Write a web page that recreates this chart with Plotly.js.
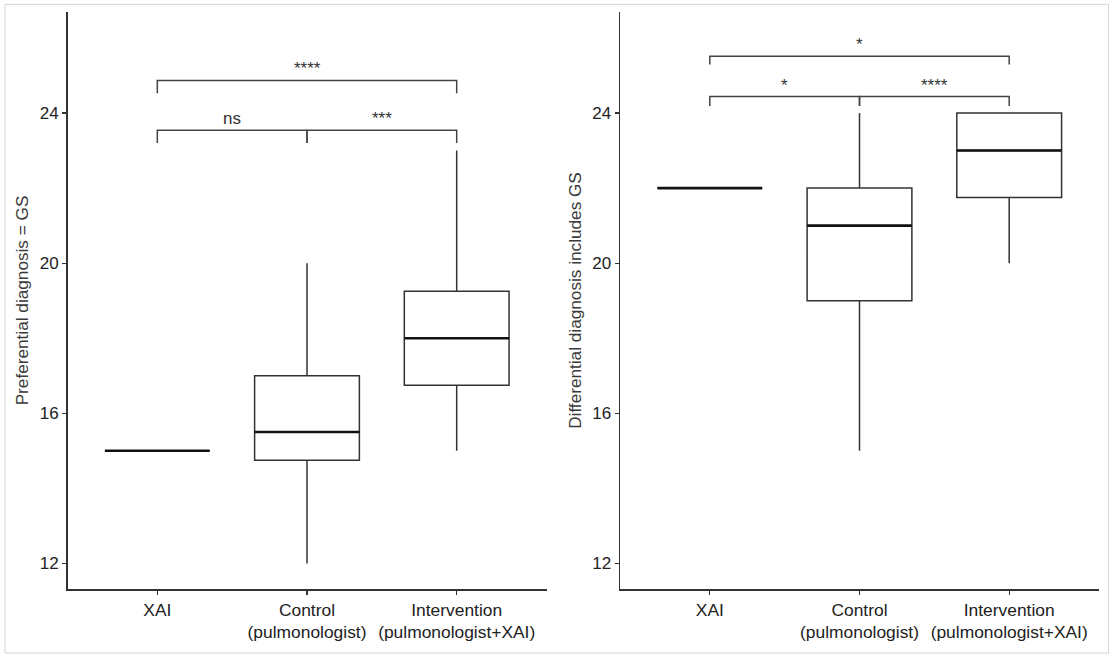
<!DOCTYPE html>
<html>
<head>
<meta charset="utf-8">
<script src="https://cdn.plot.ly/plotly-3.0.1.min.js"></script>
<style>
  html, body { margin: 0; padding: 0; background: #ffffff; }
  #chart { width: 1115px; height: 659px; }
</style>
</head>
<body>
<div id="chart"></div>
<script>
// ---------- data ----------
const categories = ['XAI', 'Control<br>(pulmonologist)', 'Intervention<br>(pulmonologist+XAI)'];
const catPos = [0, 1, 2];

// Left panel: Preferential diagnosis = GS
const leftQ1      = [15, 14.75, 16.75];
const leftMedian  = [15, 15.5, 18];
const leftQ3      = [15, 17, 19.25];
const leftLower   = [15, 12, 15];
const leftUpper   = [15, 20, 23];

// Right panel: Differential diagnosis includes GS
const rightQ1     = [22, 19, 21.75];
const rightMedian = [22, 21, 23];
const rightQ3     = [22, 22, 24];
const rightLower  = [22, 15, 20];
const rightUpper  = [22, 24, 24];

// significance brackets: [group a, group b], bracket height, tip end, label
const leftPairs   = [[0, 1], [1, 2], [0, 2]];
const leftBrY     = [23.54, 23.54, 24.87];
const leftTipY    = [23.20, 23.20, 24.53];
const leftLabels  = ['ns', '***', '****'];

const rightPairs  = [[0, 1], [1, 2], [0, 2]];
const rightBrY    = [24.44, 24.44, 25.51];
const rightTipY   = [24.19, 24.19, 25.29];
const rightLabels = ['*', '****', '*'];

const yTicks = [12, 16, 20, 24];
const leftTitle = 'Preferential diagnosis = GS';
const rightTitle = 'Differential diagnosis includes GS';

// ---------- styling ----------
const FONT = 'Liberation Sans, Arial, sans-serif';
const LINE = '#333333';
const BOXW = 0.7;

function boxTrace(q1, med, q3, lo, hi, xa, ya) {
  return {
    type: 'box', x: catPos, q1: q1, median: med, q3: q3,
    lowerfence: lo, upperfence: hi,
    width: BOXW, whiskerwidth: 0, boxpoints: false,
    fillcolor: 'rgba(255,255,255,0)',
    line: { color: LINE, width: 1.5 },
    xaxis: xa, yaxis: ya, hoverinfo: 'skip', showlegend: false
  };
}
function medianTrace(med, xa, ya) {
  const xs = [], ys = [];
  catPos.forEach((c, i) => { xs.push(c - BOXW / 2, c + BOXW / 2, null); ys.push(med[i], med[i], null); });
  return { type: 'scatter', mode: 'lines', x: xs, y: ys, line: { color: '#111111', width: 2.6 },
           xaxis: xa, yaxis: ya, hoverinfo: 'skip', showlegend: false };
}
function bracketTrace(pairs, by, ty, xa, ya) {
  const xs = [], ys = [];
  pairs.forEach((p, i) => {
    xs.push(p[0], p[0], p[1], p[1], null);
    ys.push(ty[i], by[i], by[i], ty[i], null);
  });
  return { type: 'scatter', mode: 'lines', x: xs, y: ys, line: { color: '#444444', width: 1.5 },
           xaxis: xa, yaxis: ya, hoverinfo: 'skip', showlegend: false };
}
function bracketLabels(pairs, by, labels, xa, ya) {
  return pairs.map((p, i) => ({
    xref: xa, yref: ya, x: (p[0] + p[1]) / 2, y: by[i], text: labels[i],
    showarrow: false, yanchor: 'bottom', xanchor: 'center',
    font: { family: FONT, size: 17, color: '#333333' }
  }));
}

const data = [
  boxTrace(leftQ1, leftMedian, leftQ3, leftLower, leftUpper, 'x', 'y'),
  medianTrace(leftMedian, 'x', 'y'),
  bracketTrace(leftPairs, leftBrY, leftTipY, 'x', 'y'),
  boxTrace(rightQ1, rightMedian, rightQ3, rightLower, rightUpper, 'x2', 'y2'),
  medianTrace(rightMedian, 'x2', 'y2'),
  bracketTrace(rightPairs, rightBrY, rightTipY, 'x2', 'y2')
];

function xAxis(domain, anchor) {
  return {
    domain: domain, anchor: anchor, range: [-0.6, 2.6],
    tickvals: catPos, ticktext: categories,
    showline: true, linecolor: LINE, linewidth: 1.5, mirror: false,
    ticks: 'outside', ticklen: 4, tickwidth: 1.2, tickcolor: LINE,
    showgrid: false, zeroline: false, fixedrange: true,
    tickfont: { family: FONT, size: 17.4, color: '#222222' }
  };
}
function yAxis(domain, anchor, title) {
  return {
    domain: domain, anchor: anchor, range: [11.31, 26.70],
    tickvals: yTicks, ticktext: yTicks.map(String),
    showline: true, linecolor: LINE, linewidth: 1.5,
    ticks: 'outside', ticklen: 4, tickwidth: 1.2, tickcolor: LINE,
    showgrid: false, zeroline: false, fixedrange: true,
    tickfont: { family: FONT, size: 17, color: '#222222' },
    title: { text: title, standoff: 6, font: { family: FONT, size: 17.2, color: '#3a3a3a' } }
  };
}

const yDom = [1 - 589.3 / 659, 1 - 11.7 / 659];
const layout = {
  width: 1115, height: 659,
  margin: { l: 0, r: 0, t: 0, b: 0 },
  paper_bgcolor: '#ffffff', plot_bgcolor: 'rgba(0,0,0,0)',
  showlegend: false,
  xaxis: xAxis([67.5 / 1115, 546.5 / 1115], 'y'),
  yaxis: yAxis(yDom, 'x', leftTitle),
  xaxis2: xAxis([620 / 1115, 1099 / 1115], 'y2'),
  yaxis2: yAxis(yDom, 'x2', rightTitle),
  annotations: [].concat(
    bracketLabels(leftPairs, leftBrY, leftLabels, 'x', 'y'),
    bracketLabels(rightPairs, rightBrY, rightLabels, 'x2', 'y2')
  ),
  shapes: [{
    type: 'rect', xref: 'paper', yref: 'paper',
    x0: 5 / 1115, x1: 1108.5 / 1115, y0: 1 - 653 / 659, y1: 1 - 4.3 / 659,
    line: { color: '#d4d4d4', width: 1 }, fillcolor: 'rgba(0,0,0,0)', layer: 'below'
  }]
};

Plotly.newPlot('chart', data, layout, { displayModeBar: false, staticPlot: true });
</script>
</body>
</html>
